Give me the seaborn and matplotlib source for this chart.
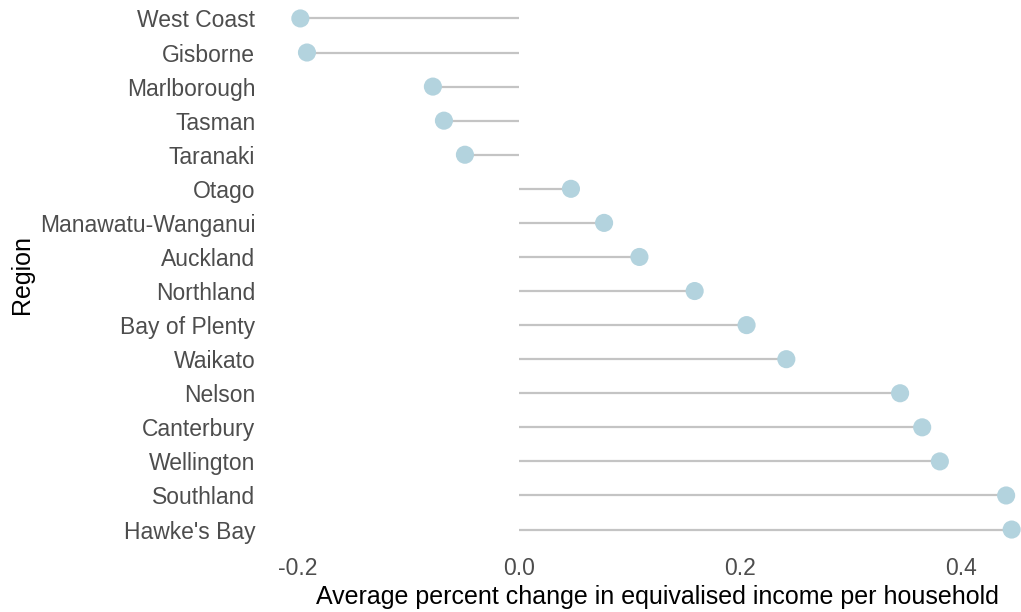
import matplotlib
matplotlib.use("Agg")
import matplotlib.pyplot as plt
import pandas as pd
import seaborn as sns

regions = ["West Coast", "Gisborne", "Marlborough", "Tasman", "Taranaki", "Otago",
           "Manawatu-Wanganui", "Auckland", "Northland", "Bay of Plenty", "Waikato",
           "Nelson", "Canterbury", "Wellington", "Southland", "Hawke's Bay"]
pct_change = [-0.198, -0.192, -0.078, -0.068, -0.049, 0.047, 0.077, 0.109, 0.159,
              0.206, 0.242, 0.345, 0.365, 0.381, 0.441, 0.446]

df = pd.DataFrame({"region": regions, "change": pct_change})

sns.set_style("white")
plt.rcParams["font.family"] = ["Liberation Sans", "DejaVu Sans"]

fig = plt.figure(figsize=(10.21, 6.12), dpi=100)
W, H = 1021, 612
ax = fig.add_axes([265 / W, (H - 550) / H, (1047 - 265) / W, 552 / H])

ax.hlines(df["region"], 0, df["change"], color="#c4c4c4", linewidth=1.6, zorder=1)
sns.scatterplot(data=df, x="change", y="region", ax=ax, s=170, color="#b3d3de",
                edgecolor="none", zorder=2, clip_on=False)

ax.set_xlim(-0.230, 0.478)
ax.set_ylim(len(regions) - 0.4, -0.6)
ax.set_xticks([-0.2, 0.0, 0.2, 0.4])
ax.set_xticklabels(["-0.2", "0.0", "0.2", "0.4"])
for s in ax.spines.values():
    s.set_visible(False)
ax.tick_params(axis="both", length=0, labelsize=16.5, labelcolor="#4d4d4d")
ax.tick_params(axis="y", pad=7)
ax.tick_params(axis="x", pad=5)
ax.set_xlabel("Average percent change in equivalised income per household",
              fontsize=18, color="black")
ax.set_ylabel("Region", fontsize=18, color="black")
ax.xaxis.set_label_coords((657 - 265) / 782, -0.063)
ax.yaxis.set_label_coords((34 - 265) / 782, 0.5)

fig.savefig("out.png", dpi=100, facecolor="white")
